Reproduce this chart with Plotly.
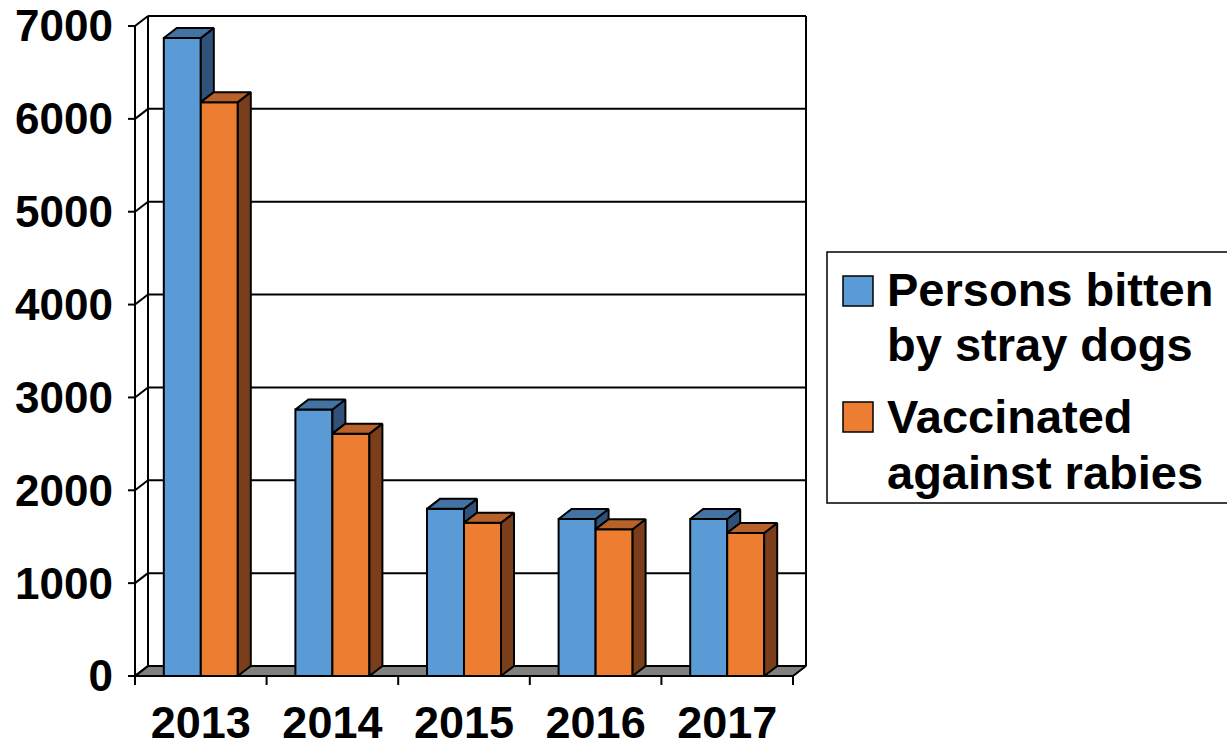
import plotly.graph_objects as go

# ---------------- data ----------------
years = ["2013", "2014", "2015", "2016", "2017"]
bitten = [6870, 2870, 1800, 1690, 1690]
vaccinated = [6180, 2610, 1650, 1580, 1540]
y_ticks = [0, 1000, 2000, 3000, 4000, 5000, 6000, 7000]
series_lines = [["Persons bitten", "by stray dogs"], ["Vaccinated", "against rabies"]]

# ---------------- styling ----------------
FONT = "Liberation Sans, Arial, sans-serif"
BLUE_FRONT, BLUE_TOP, BLUE_SIDE = "#5B9BD5", "#4273A3", "#30527A"
ORNG_FRONT, ORNG_TOP, ORNG_SIDE = "#ED7D31", "#B9612A", "#7A3E1A"
FLOOR = "#808080"
W, H = 1227, 750

# geometry (pixels)
PL, PR, PT, PB = 120, 822, 4, 692      # plot-area edges
FX0, CAT_PX = 135, 131.6               # x=-0.5 location, px per category
FY0, Y_PX = 676, 650 / 7000            # y=0 location, px per unit
DX_PX, DY_PX = 13, 10                  # 3-D depth offset
BAR_PX = 37

xmin = -0.5 - (FX0 - PL) / CAT_PX
xmax = -0.5 + (PR - FX0) / CAT_PX
ymin = -(PB - FY0) / Y_PX
ymax = (FY0 - PT) / Y_PX
dx = DX_PX / CAT_PX
dy = DY_PX / Y_PX
bw = BAR_PX / CAT_PX
ytl = 7 / CAT_PX       # y tick length in x units
xtl = 9 / Y_PX         # x tick length in y units

n = len(years)
idx = list(range(n))
xl, xr = -0.5, n - 0.5
ytop = y_ticks[-1]

fig = go.Figure()

# floor
fig.add_trace(go.Scatter(
    x=[xl, xr, xr + dx, xl + dx, xl], y=[0, 0, dy, dy, 0],
    mode="lines", fill="toself", fillcolor=FLOOR,
    line=dict(color="black", width=2), hoverinfo="skip", showlegend=False, zorder=0))

# back wall: gridlines, edges, diagonals
wx, wy = [], []
for v in y_ticks[1:]:
    wx += [xl + dx, xr + dx, None]
    wy += [v + dy, v + dy, None]
for v in y_ticks:
    wx += [xl, xl + dx, None]
    wy += [v, v + dy, None]
wx += [xl + dx, xl + dx, None, xr + dx, xr + dx, None]
wy += [dy, ytop + dy, None, dy, ytop + dy, None]
# front axis line, y ticks, x ticks
wx += [xl, xl, None]
wy += [0, ytop, None]
for v in y_ticks:
    wx += [xl - ytl, xl, None]
    wy += [v, v, None]
for k in range(n + 1):
    wx += [xl + k, xl + k, None]
    wy += [0, -xtl, None]
fig.add_trace(go.Scatter(x=wx, y=wy, mode="lines", line=dict(color="black", width=2),
                         hoverinfo="skip", showlegend=False, zorder=1))


def faces(vals, off, lows):
    tx, ty, sx, sy = [], [], [], []
    for i, v in enumerate(vals):
        a, b = i + off, i + off + bw
        tx += [a, b, b + dx, a + dx, a, None]
        ty += [v, v, v + dy, v + dy, v, None]
        lo = lows[i]
        sx += [b, b + dx, b + dx, b, b, None]
        sy += [lo, lo + dy, v + dy, v, lo, None]
    return tx, ty, sx, sy


series = [
    (bitten, -bw, BLUE_FRONT, BLUE_TOP, BLUE_SIDE, [min(b, o) for b, o in zip(bitten, vaccinated)], 2),
    (vaccinated, 0.0, ORNG_FRONT, ORNG_TOP, ORNG_SIDE, [0] * n, 4),
]
for vals, off, cf, ct, cs, lows, z in series:
    fig.add_trace(go.Bar(x=idx, y=vals, offset=off, width=bw, base=0,
                         marker=dict(color=cf, line=dict(color="black", width=2)),
                         hoverinfo="skip", showlegend=False, zorder=z))
    tx, ty, sx, sy = faces(vals, off, lows)
    fig.add_trace(go.Scatter(x=sx, y=sy, mode="lines", fill="toself", fillcolor=cs,
                             line=dict(color="black", width=2), hoverinfo="skip",
                             showlegend=False, zorder=z + 1))
    fig.add_trace(go.Scatter(x=tx, y=ty, mode="lines", fill="toself", fillcolor=ct,
                             line=dict(color="black", width=2), hoverinfo="skip",
                             showlegend=False, zorder=z + 1))


# ---------------- legend (custom, large swatches) ----------------
def px_x(p):
    return (p - PL) / (PR - PL)


def px_y(p):
    return (PB - p) / (PB - PT)


LEG_FS = 47
shapes = [dict(type="rect", xref="paper", yref="paper",
               x0=px_x(827), x1=px_x(1260), y0=px_y(503), y1=px_y(252),
               line=dict(color="black", width=1.5), fillcolor="white", layer="above")]
annotations = []
leg_rows = [(276, [305, 360]), (402, [432, 488])]
for (sq_top, baselines), lines, col in zip(leg_rows, series_lines, [BLUE_FRONT, ORNG_FRONT]):
    shapes.append(dict(type="rect", xref="paper", yref="paper",
                       x0=px_x(843), x1=px_x(873), y0=px_y(sq_top + 30), y1=px_y(sq_top),
                       line=dict(color="black", width=1.5), fillcolor=col, layer="above"))
    for base, txt in zip(baselines, lines):
        annotations.append(dict(xref="paper", yref="paper", x=px_x(886),
                                y=px_y(base - 0.33 * LEG_FS),
                                xanchor="left", yanchor="middle", align="left", showarrow=False,
                                text=txt, borderpad=0,
                                font=dict(family=FONT, size=LEG_FS, color="black", weight="bold")))

fig.update_layout(
    width=W, height=H, margin=dict(l=PL, r=W - PR, t=PT, b=H - PB, autoexpand=False),
    paper_bgcolor="white", plot_bgcolor="white", barmode="overlay",
    showlegend=False, shapes=shapes, annotations=annotations,
    xaxis=dict(range=[xmin, xmax], tickvals=idx, ticktext=years, showgrid=False,
               zeroline=False, showline=False, ticks="", ticklabelstandoff=0,
               tickfont=dict(family=FONT, size=45, color="black", weight="bold")),
    yaxis=dict(range=[ymin, ymax], tickvals=y_ticks, showgrid=False, zeroline=False,
               showline=False, ticks="", ticklabelstandoff=6,
               tickfont=dict(family=FONT, size=44, color="black", weight="bold")),
)

fig.write_html("out.html")
